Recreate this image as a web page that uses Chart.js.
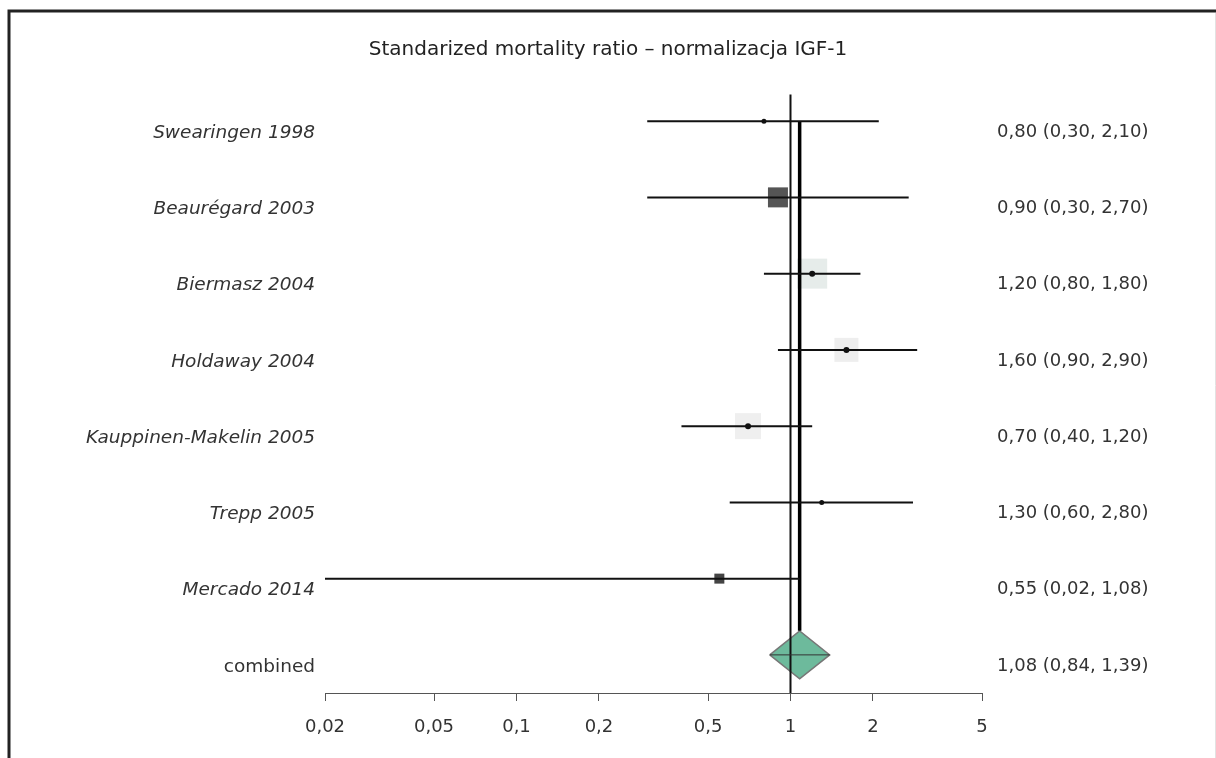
<!DOCTYPE html>
<html>
<head>
<meta charset="utf-8">
<script src="https://cdn.jsdelivr.net/npm/chart.js@4"></script>
<style>
  html, body { margin: 0; padding: 0; background: #fff; }
  #wrap { width: 1216px; height: 758px; }
</style>
</head>
<body>
<div id="wrap"><canvas id="c" width="1216" height="758"></canvas></div>
<script>
// ---- data ----
const studies = ['Swearingen 1998', 'Beaurégard 2003', 'Biermasz 2004', 'Holdaway 2004',
                 'Kauppinen-Makelin 2005', 'Trepp 2005', 'Mercado 2014', 'combined'];
const estimates = [0.80, 0.90, 1.20, 1.60, 0.70, 1.30, 0.55, 1.08];
const lowerCI   = [0.30, 0.30, 0.80, 0.90, 0.40, 0.60, 0.02, 0.84];
const upperCI   = [2.10, 2.70, 1.80, 2.90, 1.20, 2.80, 1.08, 1.39];
const xTickValues = [0.02, 0.05, 0.1, 0.2, 0.5, 1, 2, 5];
const xTickLabels = ['0,02', '0,05', '0,1', '0,2', '0,5', '1', '2', '5'];
const titleText = 'Standarized mortality ratio – normalizacja IGF-1';

// ---- styles ----
const FONT = 'DejaVu Sans';
const boxSide   = [0, 20, 30, 24, 26, 0, 10, 0];
const boxColor  = ['#fff', '#555', '#e6ecea', '#eeeeee', '#efefef', '#fff', '#444', '#fff'];
const dotRadius = [2.5, 0, 3, 3, 3, 2.5, 0, 0];
const DIAMOND_H = 0.315;

const fmt = v => v.toFixed(2).replace('.', ',');
const ciLabels = estimates.map((e, i) => `${fmt(e)} (${fmt(lowerCI[i])}, ${fmt(upperCI[i])})`);
const nStudies = studies.length - 1;
const iComb = studies.length - 1;

const datasets = [];
// CI lines (studies)
for (let i = 0; i < nStudies; i++) {
  datasets.push({
    data: [{x: lowerCI[i], y: i}, {x: upperCI[i], y: i}],
    showLine: true, borderColor: '#111', borderWidth: 2, pointRadius: 0, order: 2
  });
}
// dots
datasets.push({
  data: estimates.slice(0, nStudies).map((e, i) => ({x: e, y: i})),
  showLine: false, pointStyle: 'circle',
  pointRadius: dotRadius.slice(0, nStudies),
  backgroundColor: '#111', borderColor: '#111', borderWidth: 0, order: 1
});
// boxes
datasets.push({
  data: estimates.slice(0, nStudies).map((e, i) => ({x: e, y: i})),
  showLine: false, pointStyle: 'rect',
  pointRadius: boxSide.slice(0, nStudies).map(s => s / Math.SQRT2),
  backgroundColor: boxColor.slice(0, nStudies), borderWidth: 0, order: 5
});
// null line at 1
datasets.push({
  data: [{x: 1, y: -0.35}, {x: 1, y: 7.5}],
  showLine: true, borderColor: '#111', borderWidth: 2, pointRadius: 0, order: 3
});
// combined estimate vertical line
datasets.push({
  data: [{x: estimates[iComb], y: 0}, {x: estimates[iComb], y: iComb - DIAMOND_H}],
  showLine: true, borderColor: '#000', borderWidth: 3.5, pointRadius: 0, order: 3
});
// diamond
datasets.push({
  data: [{x: lowerCI[iComb], y: iComb}, {x: estimates[iComb], y: iComb - DIAMOND_H},
         {x: upperCI[iComb], y: iComb}, {x: estimates[iComb], y: iComb + DIAMOND_H},
         {x: lowerCI[iComb], y: iComb}],
  showLine: true, fill: 'shape', tension: 0,
  backgroundColor: '#6dba9c', borderColor: '#777', borderWidth: 1.5, pointRadius: 0, order: 4
});
// diamond horizontal line
datasets.push({
  data: [{x: lowerCI[iComb], y: iComb}, {x: upperCI[iComb], y: iComb}],
  showLine: true, borderColor: '#333', borderWidth: 1, pointRadius: 0, order: 1
});

const frame = {
  id: 'frame',
  beforeDraw(chart) {
    const ctx = chart.ctx;
    ctx.save();
    ctx.fillStyle = '#fff';
    ctx.fillRect(0, 0, chart.width, chart.height);
    ctx.strokeStyle = '#222';
    ctx.lineWidth = 3;
    ctx.beginPath();
    ctx.moveTo(9, 758); ctx.lineTo(9, 11); ctx.lineTo(1216, 11);
    ctx.stroke();
    ctx.strokeStyle = '#e2e2e2';
    ctx.lineWidth = 1;
    ctx.beginPath();
    ctx.moveTo(1215.5, 13); ctx.lineTo(1215.5, 758);
    ctx.stroke();
    ctx.restore();
  }
};

const yTicks = s => { s.ticks = studies.map((_, i) => ({value: i})); };

new Chart(document.getElementById('c'), {
  type: 'scatter',
  data: { datasets },
  plugins: [frame],
  options: {
    responsive: false,
    animation: false,
    layout: { padding: { top: 0, left: 0, right: 0, bottom: 0 } },
    plugins: {
      legend: { display: false },
      tooltip: { enabled: false },
      title: {
        display: true, text: titleText, color: '#222',
        font: { family: FONT, size: 20, weight: 'normal' },
        padding: { top: 38, bottom: 21 }
      }
    },
    scales: {
      x: {
        type: 'logarithmic', position: 'bottom', min: 0.02, max: 5,
        afterBuildTicks: s => { s.ticks = xTickValues.map(v => ({value: v})); },
        afterFit: s => { s.height = 65; },
        ticks: {
          autoSkip: false, maxRotation: 0, padding: 16, color: '#333',
          font: { family: FONT, size: 18 },
          callback: (v, i) => xTickLabels[i]
        },
        grid: { drawOnChartArea: false, drawTicks: true, tickLength: 8, color: '#555' },
        border: { display: true, color: '#555', width: 1 }
      },
      y: {
        type: 'linear', position: 'left', min: -0.5, max: 7.5, reverse: true,
        afterBuildTicks: yTicks,
        afterFit: s => { s.width = 325; },
        ticks: {
          autoSkip: false, padding: 10, labelOffset: 12, color: '#333',
          font: c => ({ family: FONT, size: 18.5, style: c.index === iComb ? 'normal' : 'italic' }),
          callback: (v, i) => studies[i]
        },
        grid: { display: false, drawTicks: false },
        border: { display: false }
      },
      y2: {
        type: 'linear', position: 'right', min: -0.5, max: 7.5, reverse: true,
        afterBuildTicks: yTicks,
        afterFit: s => { s.width = 234; },
        ticks: {
          autoSkip: false, padding: 15, labelOffset: 11, color: '#333',
          font: { family: FONT, size: 18 },
          callback: (v, i) => ciLabels[i]
        },
        grid: { display: false, drawTicks: false },
        border: { display: false }
      }
    }
  }
});
</script>
</body>
</html>
